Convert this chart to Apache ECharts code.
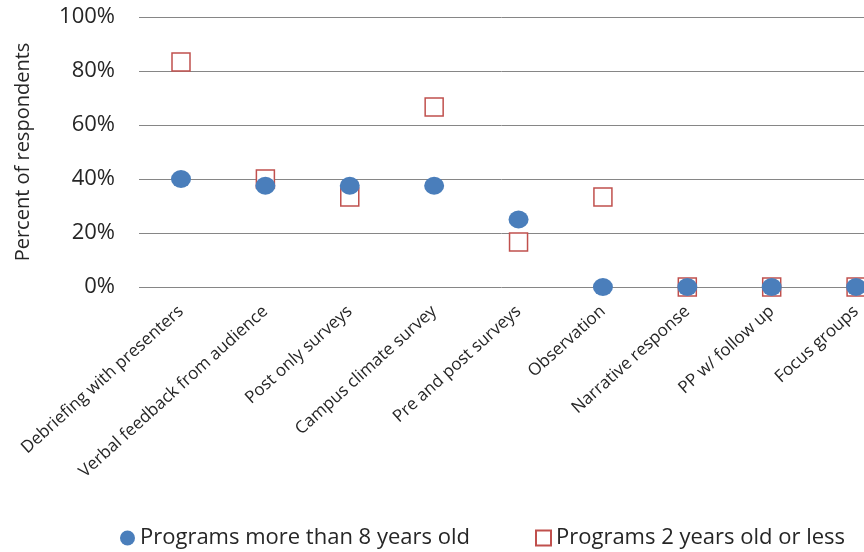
<!DOCTYPE html>
<html>
<head>
<meta charset="utf-8">
<script src="https://cdn.jsdelivr.net/npm/echarts@6/dist/echarts.min.js"></script>
<style>
  html, body { margin: 0; padding: 0; background: #fff; }
  #scatter-chart { width: 864px; height: 552px; }
</style>
</head>
<body>
<div id="scatter-chart"></div>
<script>
var categories = [
    'Debriefing with presenters', 'Verbal feedback from audience', 'Post only surveys',
    'Campus climate survey', 'Pre and post surveys', 'Observation',
    'Narrative response', 'PP w/ follow up', 'Focus groups'
];
var olderPrograms = [40, 37.5, 37.5, 37.5, 25, 0, 0, 0, 0];     // more than 8 years old
var newerPrograms = [83.3, 40, 33.3, 66.7, 16.7, 33.3, 0, 0, 0]; // 2 years old or less
var yTicks = [0, 20, 40, 60, 80, 100];

var seriesNames = ['Programs more than 8 years old', 'Programs 2 years old or less'];
var font = '"Open Sans", sans-serif';
var textColor = '#262626';

function scatterChart(){
    var chart = echarts.init(document.getElementById('scatter-chart'));
    var option = {
        animation: false,
        color: ['#4a7ebb', '#c0504d'],

        legend: [{
            left: 115,
            bottom: -2,
            itemWidth: 15,
            itemHeight: 15,
            textStyle: { fontFamily: font, fontSize: 22, color: textColor },
            data: [{ name: seriesNames[0], icon: 'circle' }]
        }, {
            left: 530,
            bottom: -2,
            itemWidth: 15,
            itemHeight: 15,
            textStyle: { fontFamily: font, fontSize: 22, color: textColor },
            data: [{ name: seriesNames[1], icon: 'rect' }]
        }],

        // grid 0 carries the value axis and its gridlines (they start left of the first category),
        // grid 1 places the categories so the last one sits at the right edge
        grid: [{
            left: 139,
            right: 0,
            top: 17,
            bottom: 265
        }, {
            left: 181,
            right: 6,
            top: 17,
            bottom: 265
        }],

        xAxis: [{
            gridIndex: 0,
            type: 'value',
            show: false
        }, {
            gridIndex: 1,
            type: 'category',
            data: categories,
            boundaryGap: false,
            axisLine: { show: false },
            axisTick: { show: false },
            splitLine: { show: false },
            axisLabel: {
                rotate: 42,
                interval: 0,
                margin: 22,
                fontFamily: font,
                fontSize: 17,
                color: textColor
            }
        }],
        yAxis: [{
            gridIndex: 0,
            type: 'value',
            min: yTicks[0],
            max: yTicks[yTicks.length - 1],
            interval: 20,
            name: 'Percent of respondents',
            nameLocation: 'middle',
            nameRotate: 90,
            nameGap: 106,
            nameTextStyle: { fontFamily: font, fontSize: 20, color: textColor },
            axisLine: { show: false },
            axisTick: { show: false },
            splitLine: { lineStyle: { color: '#868686', width: 1 } },
            axisLabel: {
                margin: 24,
                fontFamily: font,
                fontSize: 22,
                color: textColor,
                formatter: '{value}%'
            }
        }, {
            gridIndex: 1,
            type: 'value',
            min: yTicks[0],
            max: yTicks[yTicks.length - 1],
            interval: 20,
            show: false,
            splitLine: { show: false }
        }],

        series: [{
            name: seriesNames[1],
            type: 'scatter',
            xAxisIndex: 1,
            yAxisIndex: 1,
            symbol: 'rect',
            symbolSize: 18,
            itemStyle: { color: '#ffffff', borderColor: '#c0504d', borderWidth: 1.5, opacity: 1 },
            data: newerPrograms
        }, {
            name: seriesNames[0],
            type: 'scatter',
            xAxisIndex: 1,
            yAxisIndex: 1,
            symbol: 'circle',
            symbolSize: [20, 18],
            itemStyle: { color: '#4a7ebb', opacity: 1 },
            data: olderPrograms
        }]
    };

    chart.setOption(option);
}

scatterChart();
</script>
</body>
</html>
